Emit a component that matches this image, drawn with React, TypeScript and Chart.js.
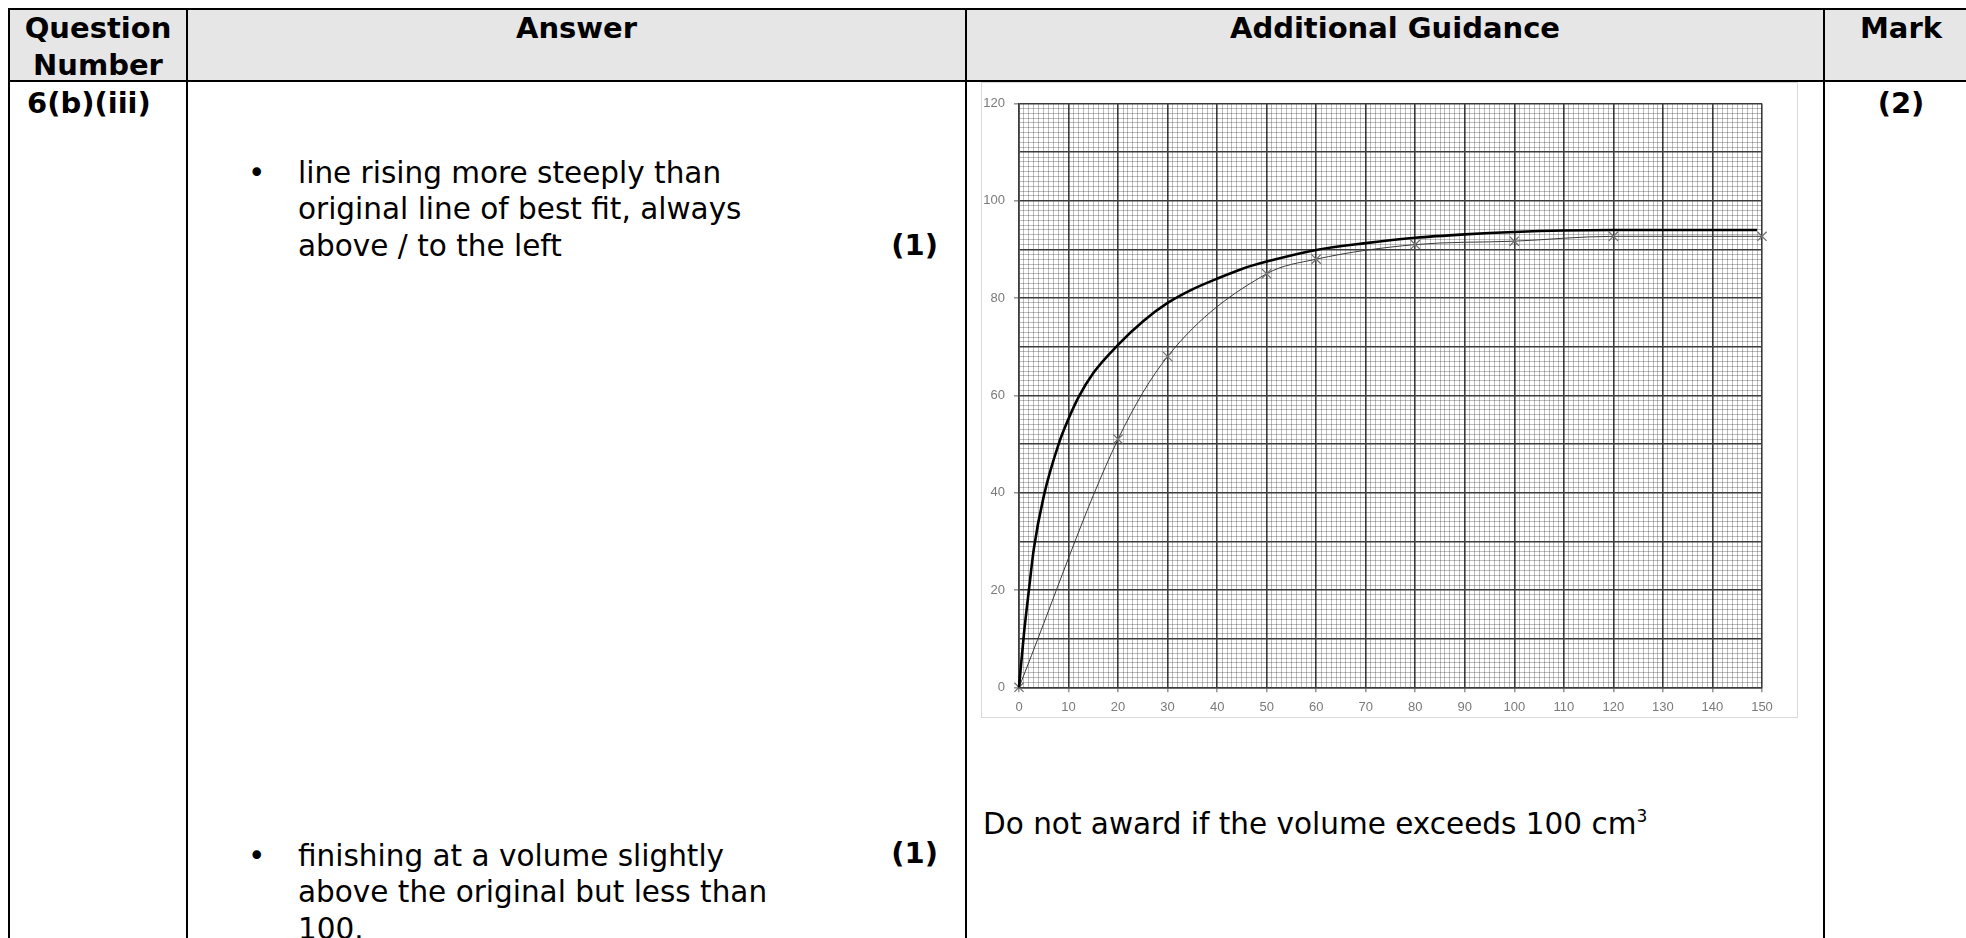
import React, { useEffect, useRef } from "react";
import { Chart, registerables } from "chart.js";

Chart.register(...registerables);

// Original results (crosses, thin best-fit line)
const originalX = [0, 20, 30, 50, 60, 80, 100, 120, 150];
const originalY = [0, 51, 68, 85, 88, 91, 91.7, 92.7, 92.7];

// Expected steeper line (thick)
const steeperX = [0, 1, 2, 3, 5, 8, 10, 12, 15, 20, 25, 30, 35, 40, 45, 50, 60, 70, 80, 90, 100, 110, 120, 135, 149];
const steeperY = [0, 11, 20, 28.5, 39.3, 50, 55.2, 59.6, 64.6, 70.4, 75.2, 79, 81.8, 84, 86, 87.5, 89.9, 91.3, 92.4, 93.1, 93.6, 93.9, 94, 94, 94];

const xTickLabels = [0, 10, 20, 30, 40, 50, 60, 70, 80, 90, 100, 110, 120, 130, 140, 150];
const yTickLabels = [0, 20, 40, 60, 80, 100, 120];

const FONT = "'DejaVu Sans', Verdana, sans-serif";

function GraphPaper() {
  const ref = useRef<HTMLCanvasElement | null>(null);
  useEffect(() => {
    const canvas = ref.current;
    if (!canvas) return;
    const major = (v: number) => Math.round(v) % 10 === 0;
    const gridColor = (ctx: any) => (ctx.tick && major(ctx.tick.value) ? "#3c3c3c" : "rgba(0,0,0,0.26)");
    const gridWidth = (ctx: any) => (ctx.tick && major(ctx.tick.value) ? 1.6 : 1);
    const chart = new Chart(canvas, {
      type: "scatter",
      data: {
        datasets: [
          {
            label: "Steeper",
            data: steeperX.map((x, i) => ({ x, y: steeperY[i] })),
            showLine: true,
            borderColor: "#000000",
            borderWidth: 2.6,
            pointRadius: 0,
            cubicInterpolationMode: "monotone",
            clip: false,
          } as any,
          {
            label: "Original",
            data: originalX.map((x, i) => ({ x, y: originalY[i] })),
            showLine: true,
            borderColor: "#3a3a3a",
            borderWidth: 1,
            pointStyle: "crossRot",
            pointRadius: 6.5,
            pointBorderColor: "#6e6e6e",
            pointBorderWidth: 1.2,
            cubicInterpolationMode: "monotone",
            clip: false,
          } as any,
        ],
      },
      options: {
        animation: false,
        responsive: false,
        maintainAspectRatio: false,
        layout: { padding: { left: 0, top: 20.5, right: 35, bottom: 0 } },
        plugins: { legend: { display: false }, tooltip: { enabled: false } },
        scales: {
          x: {
            type: "linear",
            min: 0,
            max: 150,
            afterFit: (s: any) => {
              s.height = 29.7;
            },
            ticks: {
              stepSize: 1,
              autoSkip: false,
              maxRotation: 0,
              minRotation: 0,
              maxTicksLimit: 1000,
              padding: 7,
              color: "#7a7a7a",
              font: { family: "'Liberation Sans', Arial, sans-serif", size: 13 },
              callback: (v: any) => (xTickLabels.includes(Number(v)) ? String(v) : ""),
            },
            grid: {
              color: gridColor,
              lineWidth: gridWidth,
              tickLength: 5,
              tickColor: (ctx: any) => (ctx.tick && major(ctx.tick.value) ? "#9a9a9a" : "rgba(0,0,0,0)"),
            },
            border: { display: true, color: "#3c3c3c", width: 1.6 },
          },
          y: {
            type: "linear",
            min: 0,
            max: 120,
            afterFit: (s: any) => {
              s.width = 37;
            },
            ticks: {
              stepSize: 1,
              autoSkip: false,
              maxTicksLimit: 1000,
              padding: 9,
              color: "#7a7a7a",
              font: { family: "'Liberation Sans', Arial, sans-serif", size: 13 },
              callback: (v: any) => (yTickLabels.includes(Number(v)) ? String(v) : ""),
            },
            grid: {
              color: gridColor,
              lineWidth: gridWidth,
              tickLength: 5,
              tickColor: (ctx: any) => (ctx.tick && yTickLabels.includes(Math.round(ctx.tick.value)) ? "#9a9a9a" : "rgba(0,0,0,0)"),
            },
            border: { display: true, color: "#3c3c3c", width: 1.6 },
          },
        },
      } as any,
    });
    return () => chart.destroy();
  }, []);
  return <canvas ref={ref} width={815} height={634} style={{ display: "block", width: 815, height: 634 }} />;
}

const line = (left: number, top: number, width: number, height: number, color = "#000") => (
  <div style={{ position: "absolute", left, top, width, height, background: color }} />
);

export default function App() {
  const textBase: React.CSSProperties = {
    position: "absolute",
    fontFamily: FONT,
    fontSize: 29,
    color: "#000",
    whiteSpace: "nowrap",
  };
  const body: React.CSSProperties = { ...textBase, fontSize: 29.5 };
  return (
    <div
      style={{
        position: "absolute",
        left: 0,
        top: 0,
        width: 1966,
        height: 938,
        overflow: "hidden",
        background: "#fff",
      }}
    >
      {/* header background */}
      <div style={{ position: "absolute", left: 10, top: 10, width: 1966, height: 70, background: "#e6e6e6" }} />

      {/* borders */}
      {line(8, 8, 1970, 2)}
      {line(8, 8, 2, 930)}
      {line(8, 80, 1970, 2)}
      {line(186, 8, 2, 930)}
      {line(965, 8, 2, 930)}
      {line(1823, 8, 2, 930)}

      {/* header texts */}
      <div style={{ ...textBase, left: 10, top: 10, width: 176, textAlign: "center", fontWeight: "bold", lineHeight: "36.5px" }}>
        Question
        <br />
        Number
      </div>
      <div style={{ ...textBase, left: 188, top: 10, width: 777, textAlign: "center", fontWeight: "bold", lineHeight: "36.5px" }}>
        Answer
      </div>
      <div style={{ ...textBase, left: 967, top: 10, width: 856, textAlign: "center", fontWeight: "bold", lineHeight: "36.5px" }}>
        Additional Guidance
      </div>
      <div style={{ ...textBase, left: 1825, top: 10, width: 152, textAlign: "center", fontWeight: "bold", lineHeight: "36.5px" }}>
        Mark
      </div>

      {/* row texts */}
      <div style={{ ...textBase, left: 27, top: 85, fontWeight: "bold", lineHeight: "36px" }}>6(b)(iii)</div>
      <div style={{ ...textBase, left: 1825, top: 85, width: 152, textAlign: "center", fontWeight: "bold", lineHeight: "36px" }}>
        (2)
      </div>

      {/* bullet 1 */}
      <div style={{ ...body, left: 248, top: 155, lineHeight: "36.4px" }}>•</div>
      <div style={{ ...body, left: 298, top: 155, lineHeight: "36.4px" }}>
        line rising more steeply than
        <br />
        original line of best fit, always
        <br />
        above / to the left
      </div>
      <div style={{ ...textBase, left: 880, top: 227, width: 58, textAlign: "right", fontWeight: "bold", lineHeight: "36px" }}>
        (1)
      </div>

      {/* bullet 2 */}
      <div style={{ ...body, left: 248, top: 838, lineHeight: "36.4px" }}>•</div>
      <div style={{ ...body, left: 298, top: 838, lineHeight: "36.4px" }}>
        finishing at a volume slightly
        <br />
        above the original but less than
        <br />
        100.
      </div>
      <div style={{ ...textBase, left: 880, top: 835, width: 58, textAlign: "right", fontWeight: "bold", lineHeight: "36px" }}>
        (1)
      </div>

      {/* guidance */}
      <div style={{ ...body, left: 983, top: 806, lineHeight: "36px" }}>
        Do not award if the volume exceeds 100 cm
        <sup style={{ fontSize: 17, lineHeight: 0, verticalAlign: "0.7em" }}>3</sup>
      </div>

      {/* chart image */}
      <div
        style={{
          position: "absolute",
          left: 981,
          top: 82,
          width: 817,
          height: 636,
          boxSizing: "border-box",
          border: "1px solid #d9d9d9",
          background: "#fff",
        }}
      >
        <GraphPaper />
      </div>
    </div>
  );
}
